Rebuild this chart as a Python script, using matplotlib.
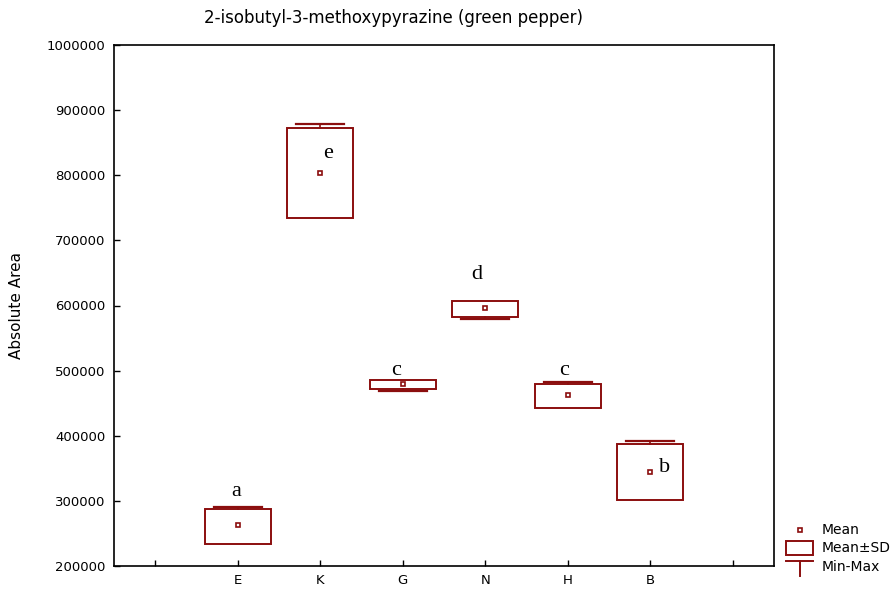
import matplotlib.pyplot as plt
from matplotlib.patches import Rectangle

# values
groups = ["E", "K", "G", "N", "H", "B"]
means = [263000, 803000, 479000, 596000, 462000, 344000]
sd_low = [234000, 734000, 472000, 582000, 443000, 302000]
sd_high = [287000, 872000, 485000, 607000, 479000, 387000]
mins = [240000, 740000, 469000, 579000, 450000, 310000]
maxs = [291000, 879000, 480000, 600000, 482000, 392000]
letters = ["a", "e", "c", "d", "c", "b"]
letter_pos = [(-0.02, 315000), (0.1, 833000), (-0.08, 500000), (-0.1, 647000), (-0.05, 500000), (0.17, 352000)]

color = "#8B0E0E"
plt.rcParams["font.family"] = ["DejaVu Sans"]

fig = plt.figure(figsize=(8.92, 5.90), dpi=100)
ax = fig.add_axes([114 / 892, 1 - 566 / 590, 660 / 892, 521 / 590])

box_w = 0.8
cap_w = 0.58
for i, g in enumerate(groups):
    x = i + 1
    lo, hi = sd_low[i], sd_high[i]
    ax.add_patch(Rectangle((x - box_w / 2, lo), box_w, hi - lo, fill=False,
                           edgecolor=color, linewidth=1.4, zorder=3))
    if maxs[i] > hi:
        ax.plot([x, x], [hi, maxs[i]], color=color, lw=1.2, zorder=3)
        ax.plot([x - cap_w / 2, x + cap_w / 2], [maxs[i]] * 2, color=color, lw=1.6, zorder=3)
    if mins[i] < lo:
        ax.plot([x, x], [mins[i], lo], color=color, lw=1.2, zorder=3)
        ax.plot([x - cap_w / 2, x + cap_w / 2], [mins[i]] * 2, color=color, lw=1.6, zorder=3)
    ax.plot(x, means[i], marker="s", ms=3.5, mfc="white", mec=color, mew=1.2, zorder=4)
    dx, ly = letter_pos[i]
    ax.text(x + dx, ly, letters[i], family="Liberation Serif", fontsize=16,
            ha="center", va="center")

ax.set_xlim(-0.5, 7.5)
ax.set_ylim(200000, 1000000)
ax.set_xticks(range(0, 8))
ax.set_xticklabels([""] + groups + [""])
yt = list(range(200000, 1000001, 100000))
ax.set_yticks(yt)
ax.set_yticklabels([str(v) for v in yt])
ax.tick_params(direction="in", length=4, labelsize=9.5, width=1, pad=6)
for s in ax.spines.values():
    s.set_linewidth(1.2)

ax.set_ylabel("Absolute Area", fontsize=11)
ax.yaxis.set_label_coords(-90 / 660, 0.5)
fig.text(394 / 892, 1 - 18 / 590, "2-isobutyl-3-methoxypyrazine (green pepper)",
         ha="center", va="center", fontsize=12)

# legend drawn by hand outside the axes, in pixel coordinates
lg = fig.add_axes([0, 0, 1, 1], zorder=-1)
lg.set_xlim(0, 892)
lg.set_ylim(590, 0)
lg.axis("off")
lg.plot(800, 530, marker="s", ms=3.5, mfc="white", mec=color, mew=1.2)
lg.add_patch(Rectangle((786, 541), 27, 14, fill=False, edgecolor=color, linewidth=1.4))
lg.plot([786, 813], [561, 561], color=color, lw=1.4)
lg.plot([800, 800], [561, 576], color=color, lw=1.4)
for ty, txt in [(530, "Mean"), (548, "Mean±SD"), (567, "Min-Max")]:
    lg.text(822, ty, txt, fontsize=10, va="center", ha="left")

fig.savefig("out.png", dpi=100)
